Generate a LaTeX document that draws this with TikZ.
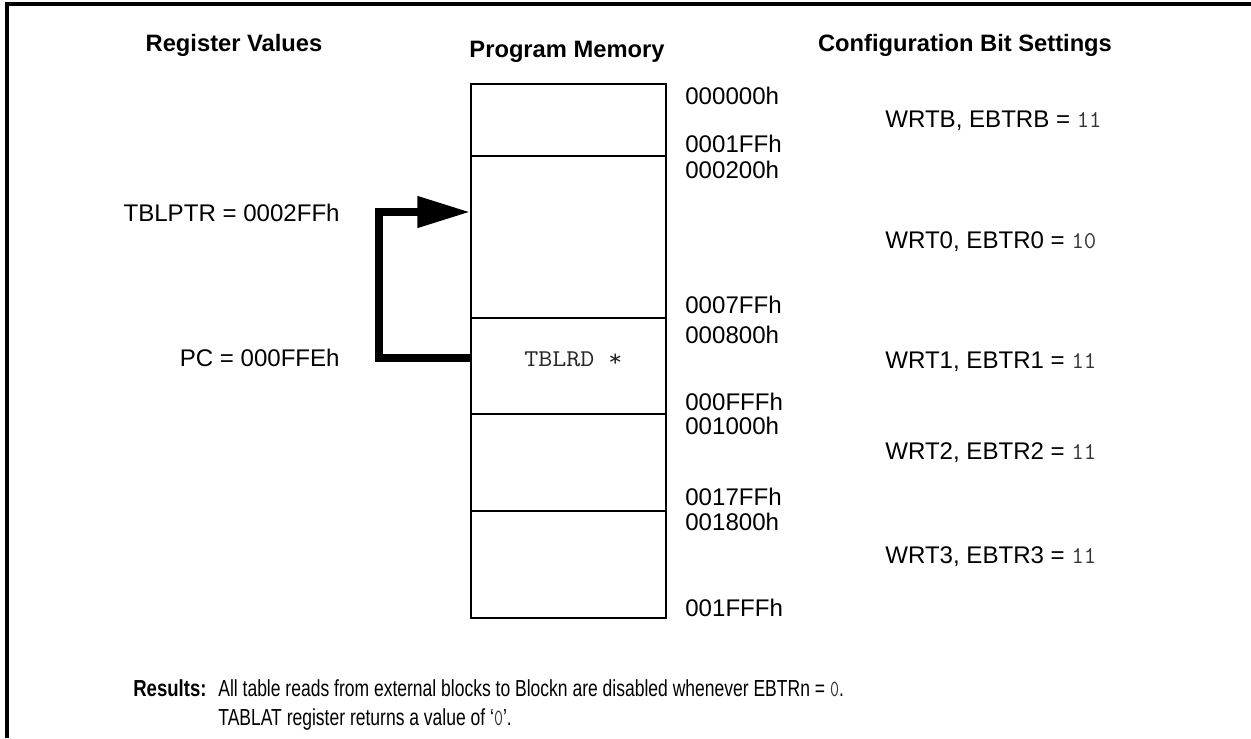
\documentclass[tikz,border=0pt]{standalone}
\usepackage{fontspec}
\setmainfont{Liberation Sans}
\usepackage{graphicx}
\usepackage{xcolor}
\usetikzlibrary{arrows.meta}
\newcommand{\cbit}[1]{{\color{black!80}\texttt{#1}}}

\begin{document}
\begin{tikzpicture}[x=0.02cm, y=-0.02cm,
  lbl/.style={font=\fontsize{13.7}{16}\selectfont, inner sep=0pt, anchor=base west},
  head/.style={font=\fontsize{13.5}{16}\selectfont\bfseries, inner sep=0pt, anchor=base},
  res/.style={font=\fontsize{13.2}{16}\selectfont, inner sep=0pt, anchor=base west},
  memblk/.style={draw, line width=1.1pt, minimum width=3.9cm, inner sep=0pt, anchor=north west},
  ptr/.style={line width=4.6pt, -{Triangle[length=30pt, width=17pt]}}]
  \useasboundingbox (0,0) rectangle (1251,738);
  % frame
  \draw[line width=1.9pt] (7,738) -- (7,4) -- (1251,4);
  % column titles
  \node[head] (hdreg) at (234,51) {Register Values};
  \node[head] (hdmem) at (567,57) {Program Memory};
  \node[head] (hdcfg) at (965,51) {Configuration Bit Settings};
  % memory blocks
  \foreach \nm/\ya/\yb in {blkB/83/155, blk0/155/317, blk1/317/413, blk2/413/510, blk3/510/617}
    \node[memblk, minimum height={(\yb-\ya)*0.02cm}] (\nm) at (470,\ya) {};
  \node[lbl, font=\fontsize{13.7}{16}\selectfont\ttfamily, text=black!85] (tblrd) at (524,366) {\scalebox{1.13}[1]{TBLRD *}};
  % addresses
  \foreach \nm/\yy/\adr in {a0/104/000000h, a1/152/0001FFh, a2/178/000200h, a3/313/0007FFh,
      a4/343/000800h, a5/410/000FFFh, a6/434/001000h, a7/505/0017FFh, a8/530/001800h, a9/616/001FFFh}
    \node[lbl] (\nm) at (685,\yy) {\adr};
  % configuration bits
  \node[lbl] (cfgB) at (885,127) {WRTB, EBTRB = \cbit{11}};
  \node[lbl] (cfg0) at (885,248) {WRT0, EBTR0 = \cbit{10}};
  \node[lbl] (cfg1) at (885,368) {WRT1, EBTR1 = \cbit{11}};
  \node[lbl] (cfg2) at (885,459) {WRT2, EBTR2 = \cbit{11}};
  \node[lbl] (cfg3) at (885,563) {WRT3, EBTR3 = \cbit{11}};
  % register values
  \node[lbl, anchor=base east] (tblptr) at (340,221) {TBLPTR = 0002FFh};
  \node[lbl, anchor=base east] (pc) at (340,366) {PC = 000FFEh};
  \coordinate (rdsrc) at (470,358);
  \coordinate (rddst) at (470,212);
  \draw[ptr] (rdsrc) -- ++(-91,0) |- (rddst);
  % results
  \node[res, font=\fontsize{13.2}{16}\selectfont\bfseries] (reshd) at (133,696) {\scalebox{0.8}[1]{Results:}};
  \node[res] (resa) at (218,696) {\scalebox{0.755}[1]{All table reads from external blocks to Blockn are disabled whenever EBTRn = \cbit{0}.}};
  \node[res] (resb) at (218,725) {\scalebox{0.755}[1]{TABLAT register returns a value of `\cbit{0}'.}};
\end{tikzpicture}
\end{document}
